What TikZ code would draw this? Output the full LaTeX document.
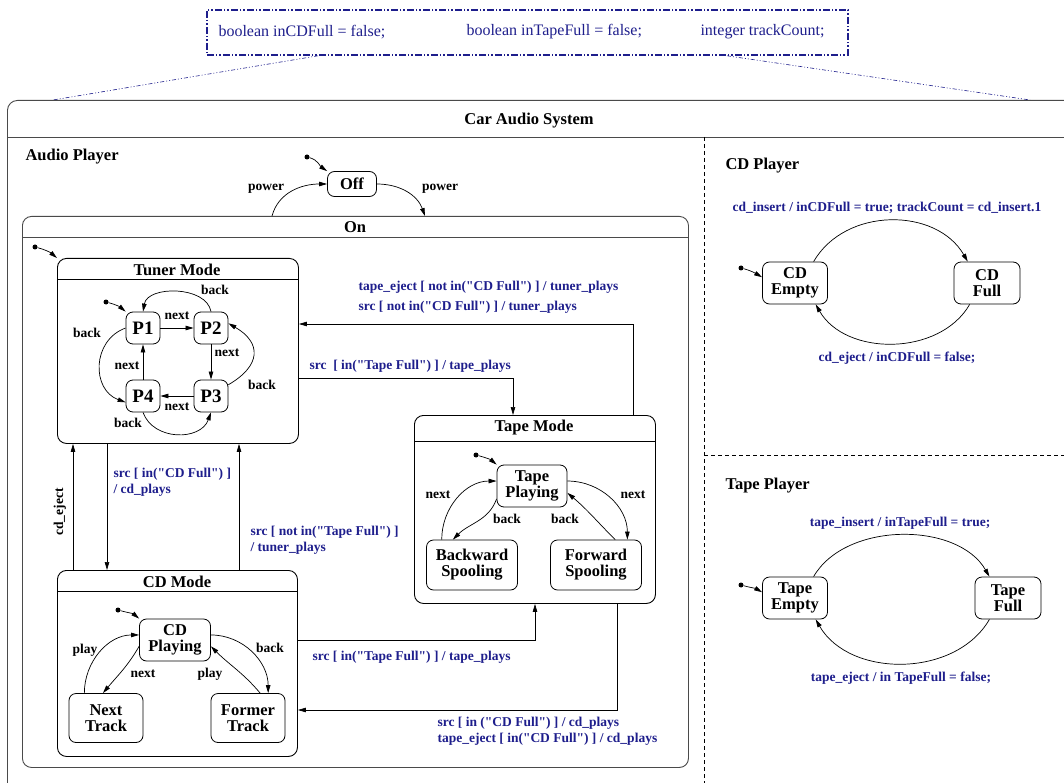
\documentclass[tikz,border=0pt]{standalone}
\usepackage{fontspec}
\setmainfont{Liberation Serif}[Ligatures=TeXOff]
\usetikzlibrary{arrows.meta,calc}
\definecolor{actionblue}{HTML}{1E1E8C}
\definecolor{framegray}{HTML}{4A4A4A}

\begin{document}
\begin{tikzpicture}[
  x=1pt,
  y=1pt,
  every node/.style={font=\bfseries\fontsize{13.5}{16}\selectfont},
  big/.style={font=\bfseries\fontsize{16.5}{16}\selectfont},
  leaf/.style={draw, rounded corners=7pt, line width=0.8pt, align=center,
               inner sep=0pt, big},
  compound/.style={draw, rounded corners=9pt, line width=0.9pt,
                   inner sep=0pt, anchor=north west},
  initdot/.style={circle, fill, inner sep=0pt, minimum size=5pt},
  trans/.style={line width=0.7pt, -{Triangle[length=8pt,width=4.5pt]}},
  act/.style={actionblue, align=left},
  divider/.style={line width=0.6pt, dash pattern=on 4pt off 3pt},
  refines/.style={actionblue, line width=0.6pt,
                  dash pattern=on 4pt off 2pt on 1pt off 2pt on 1pt off 2pt}
]
  \useasboundingbox (0,0) rectangle (1064,-783);

  % ---- global variables ----
  \node[compound, draw=actionblue, line width=1.8pt,
        dash pattern=on 7pt off 2pt on 1.5pt off 2pt on 1.5pt off 2pt,
        rounded corners=0pt, minimum width=641pt, minimum height=45pt]
        (vars) at (206,-9) {};
  \foreach \x/\t/\n in {215/{boolean inCDFull = false;}/varcd,
                        463/{boolean inTapeFull = false;}/vartape,
                        697/{integer trackCount;}/varcount}
    \node[anchor=west, actionblue, font=\fontsize{16}{18}\selectfont]
      (\n) at (\x,-32) {\t};
  \coordinate (carleft)  at (53,-100);
  \coordinate (carright) at (1030,-100);
  \draw[refines] ($(vars.south west)+(112,0)$) -- (carleft);
  \draw[refines] ($(vars.south west)+(521,0)$) -- (carright);

  % ---- the system and its three regions ----
  \node[compound, draw=framegray, rounded corners=10pt,
        minimum width=1090pt, minimum height=720pt] (car) at (7,-100) {};
  \node[big] (cartitle) at (529,-121) {Car Audio System};
  \draw[framegray, line width=0.9pt] (car.west |- 0,-137) -- (car.east |- 0,-137);
  \draw[divider] (704,-137) -- (704,-800);
  \draw[divider] (704,-455) -- (1100,-455);

  % ---- audio player ----
  \node[big, anchor=west] (audiolbl) at (22,-157) {Audio Player};
  \node[initdot] (offinit) at (307,-157) {};
  \node[leaf, minimum width=49pt, minimum height=25pt] (off) at (352,-184) {Off};
  \draw[trans] (offinit) to[out=-15,in=145] (off.north west);

  \node[compound, draw=framegray, minimum width=666pt, minimum height=551pt]
        (on) at (22,-216) {};
  \node[big] (ontitle) at (355,-227) {On};
  \draw[framegray, line width=0.9pt] (on.west |- 0,-237) -- (on.east |- 0,-237);
  \draw[trans] (on.north -| 272,0) to[out=75,in=180] (off.west);
  \draw[trans] (off.east) to[out=0,in=110] (on.north -| 425,0);
  \node (power1) at (266,-189) {power};
  \node (power2) at (440,-189) {power};

  % ---- tuner mode ----
  \node[initdot] (tunerinit) at (35,-247) {};
  \node[compound, minimum width=241pt, minimum height=185pt] (tuner) at (57,-258) {};
  \draw[trans] (tunerinit) to[out=-15,in=140] (tuner.north west);
  \node[big] (tunertitle) at (177,-270) {Tuner Mode};
  \draw[line width=0.9pt] (tuner.west |- 0,-279) -- (tuner.east |- 0,-279);

  \foreach \n/\x/\y in {1/143/328, 2/211/328, 3/211/396, 4/143/396}
    \node[leaf, minimum width=34pt, minimum height=32pt,
          font=\bfseries\fontsize{19}{20}\selectfont] (p\n) at (\x,-\y) {P\n};
  \node[initdot] (p1init) at (106,-302) {};
  \draw[trans] (p1init) to[out=-15,in=140] (p1.north west);

  \draw[trans] (p1) -- (p2);
  \draw[trans] (p2) -- (p3);
  \draw[trans] (p3) -- (p4);
  \draw[trans] (p4) -- (p1);
  \draw[trans] (p2.north) to[out=100,in=80,looseness=1.0] (p1.north);
  \draw[trans] (p1.west) to[out=200,in=160,looseness=1.25] (p4.200);
  \draw[trans] (p4.south) to[out=-70,in=-110,looseness=1.15] (p3.south);
  \draw[trans] (p3.33) to[out=30,in=-30,looseness=1.6] (p2.15);

  \foreach \n/\x/\y in {tnext1/177/316, tnext2/227/353, tnext3/177/407, tnext4/127/366}
    \node (\n) at (\x,-\y) {next};
  \foreach \n/\x/\y in {tback1/215/290, tback2/87/333, tback3/262/385, tback4/128/423}
    \node (\n) at (\x,-\y) {back};

  % ---- tape mode ----
  \node[compound, minimum width=241pt, minimum height=188pt] (tape) at (414,-415) {};
  \node[big] (tapetitle) at (534,-428) {Tape Mode};
  \draw[line width=0.9pt] (tape.west |- 0,-441) -- (tape.east |- 0,-441);
  \node[leaf, minimum width=70pt, minimum height=42pt] (tplay) at (532,-486) {Tape\\Playing};
  \node[leaf, minimum width=91pt, minimum height=50pt] (bspool) at (472,-565) {Backward\\Spooling};
  \node[leaf, minimum width=91pt, minimum height=50pt] (fspool) at (596,-565) {Forward\\Spooling};
  \node[initdot] (tplayinit) at (476,-455) {};
  \draw[trans] (tplayinit) to[out=-15,in=140] (tplay.north west);
  \draw[trans] (bspool.140) to[out=90,in=180] (tplay.172);
  \draw[trans] (tplay.200) to[out=250,in=45] (bspool.127);
  \draw[trans] (tplay.8) to[out=0,in=90] (fspool.39);
  \draw[trans] (fspool.53) to[out=135,in=-40] (tplay.-11);
  \node (pnext1) at (438,-495) {next};
  \node (pnext2) at (633,-495) {next};
  \node (pback1) at (507,-519) {back};
  \node (pback2) at (565,-519) {back};

  % ---- cd mode ----
  \node[compound, minimum width=240pt, minimum height=186pt] (cdmode) at (57,-570) {};
  \node[big] (cdtitle) at (177,-582) {CD Mode};
  \draw[line width=0.9pt] (cdmode.west |- 0,-591) -- (cdmode.east |- 0,-591);
  \node[leaf, minimum width=71pt, minimum height=42pt] (cdplay) at (175,-640) {CD\\Playing};
  \node[leaf, minimum width=74pt, minimum height=49pt] (ntrack) at (106,-718) {Next\\Track};
  \node[leaf, minimum width=74pt, minimum height=49pt] (ftrack) at (248,-718) {Former\\Track};
  \node[initdot] (cdplayinit) at (118,-610) {};
  \draw[trans] (cdplayinit) to[out=-15,in=140] (cdplay.north west);
  \draw[trans] (ntrack.131) to[out=90,in=180] (cdplay.172);
  \draw[trans] (cdplay.190) to[out=240,in=50] (ntrack.97);
  \draw[trans] (cdplay.8) to[out=0,in=90] (ftrack.51);
  \draw[trans] (ftrack.64) to[out=130,in=-45] (cdplay.-10);
  \node (cplay1) at (85,-650) {play};
  \node (cback1) at (270,-648) {back};
  \node (cnext1) at (143,-674) {next};
  \node (cplay2) at (210,-674) {play};

  % ---- transitions between the modes ----
  \draw[trans] (cdmode.north -| 73,0) -- (tuner.south -| 73,0);
  \draw[trans] (tuner.south -| 107,0) -- (cdmode.north -| 107,0);
  \draw[trans] (cdmode.north -| 239,0) -- (tuner.south -| 239,0);
  \draw[trans] (tape.north -| 633,0) |- (tuner.east |- 0,-324);
  \draw[trans] (tuner.east |- 0,-378) -| (tape.north -| 513,0);
  \draw[trans] (cdmode.east |- 0,-640) -| (tape.south -| 535,0);
  \draw[trans] (tape.south -| 617,0) |- (cdmode.east |- 0,-710);

  \node[rotate=90] (cdeject) at (60,-512) {cd\_eject};
  \node[act, anchor=west] (cdplays) at (110,-482) {src [ in("CD Full") ]\\/ cd\_plays};
  \node[act, anchor=west] (tunerplays) at (247,-540) {src [ not in("Tape Full") ]\\/ tuner\_plays};
  \node[act, anchor=west] (tapetotuner) at (355,-297)
    {tape\_eject [ not in("CD Full") ] / tuner\_plays\\[4pt]src [ not in("CD Full") ] / tuner\_plays};
  \node[act, anchor=west] (tunertotape) at (306,-366) {src\ \ [ in("Tape Full") ] / tape\_plays};
  \node[act, anchor=west] (cdtotape) at (309,-657) {src [ in("Tape Full") ] / tape\_plays};
  \node[act, anchor=west] (tapetocd) at (434,-731)
    {src [ in ("CD Full") ] / cd\_plays\\tape\_eject [ in("CD Full") ] / cd\_plays};

  % ---- cd player ----
  \node[big, anchor=west] (cdplayerlbl) at (722,-166) {CD Player};
  \node[leaf, minimum width=65pt, minimum height=42pt] (cdempty) at (795,-283) {CD\\Empty};
  \node[leaf, minimum width=66pt, minimum height=42pt] (cdfull) at (987,-283) {CD\\Full};
  \node[initdot] (cdemptyinit) at (741,-268) {};
  \draw[trans] (cdemptyinit) to[out=-15,in=150] (cdempty.170);
  \draw[trans] (cdempty.49) to[out=60,in=120,looseness=1.05] (cdfull.132);
  \draw[trans] (cdfull.-129) to[out=-120,in=-60,looseness=1.0] (cdempty.-46);
  \node[act] (cdinsert) at (887,-208) {cd\_insert / inCDFull = true; trackCount = cd\_insert.1};
  \node[act] (cdout) at (897,-358) {cd\_eject / inCDFull = false;};

  % ---- tape player ----
  \node[big, anchor=west] (tapeplayerlbl) at (722,-486) {Tape Player};
  \node[leaf, minimum width=65pt, minimum height=42pt] (tempty) at (795,-598) {Tape\\Empty};
  \node[leaf, minimum width=66pt, minimum height=42pt] (tfull) at (1008,-598) {Tape\\Full};
  \node[initdot] (temptyinit) at (741,-585) {};
  \draw[trans] (temptyinit) to[out=-15,in=150] (tempty.170);
  \draw[trans] (tempty.49) to[out=60,in=120,looseness=0.93] (tfull.131);
  \draw[trans] (tfull.-131) to[out=-120,in=-60,looseness=1.0] (tempty.-46);
  \node[act] (tinsert) at (900,-523) {tape\_insert / inTapeFull = true;};
  \node[act] (tout) at (901,-678) {tape\_eject / in TapeFull = false;};
\end{tikzpicture}
\end{document}
